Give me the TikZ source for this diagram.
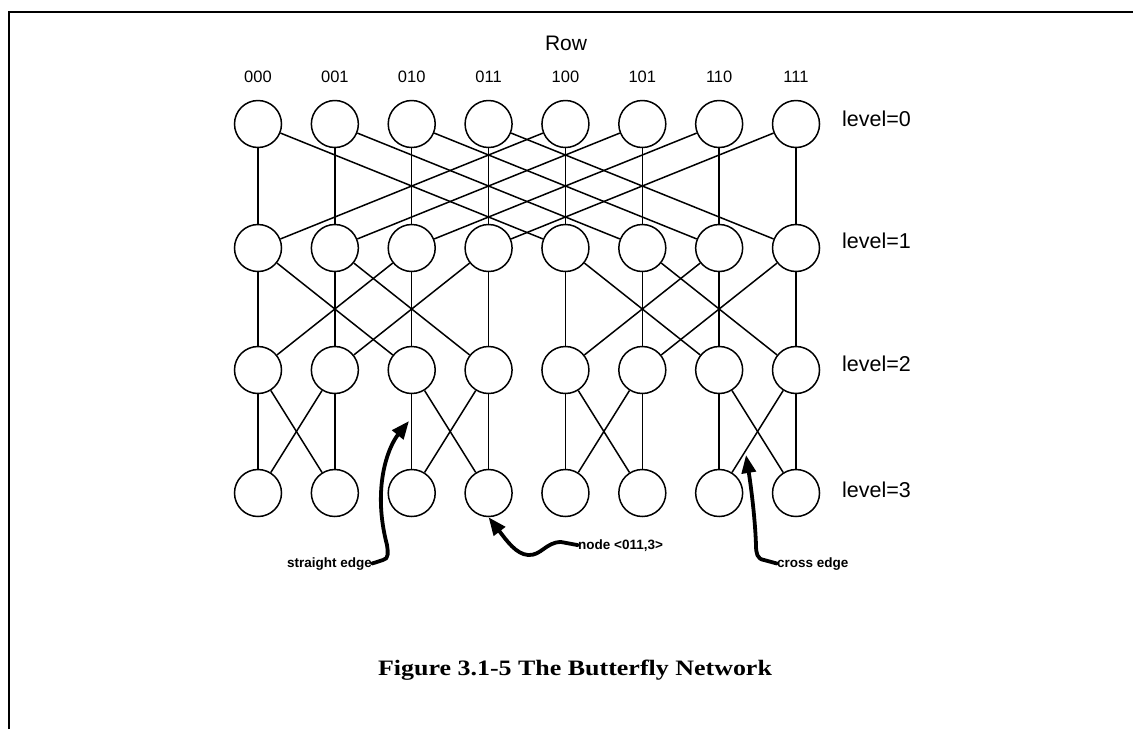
\documentclass[tikz,border=0pt]{standalone}
\usepackage{fontspec}
\setmainfont{Liberation Sans}
\newfontfamily\capfont{Liberation Serif}
\usetikzlibrary{arrows.meta}

\tikzset{
  vtx/.style={circle, draw, line width=1.5pt, minimum size=47pt, inner sep=0pt},
  edge/.style={line width=1.5pt},
  rowlab/.style={anchor=base, inner sep=0pt, font=\fontsize{16.5}{18}\selectfont},
  levlab/.style={anchor=base west, inner sep=0pt, font=\fontsize{21.5}{24}\selectfont},
  notelab/.style={inner sep=0pt, font=\bfseries\fontsize{13.5}{15}\selectfont},
  pointer/.style={line width=3.8pt, line cap=round, line join=round,
                  -{Triangle[length=18pt,width=14pt]}},
  frameline/.style={line width=2pt},
}

\begin{document}
\begin{tikzpicture}[x=1pt, y=-1pt]
\useasboundingbox (0,0) rectangle (1133,729);

% frame
\draw[frameline] (9,729) -- (9,12) -- (1133,12);

% column labels
\node[anchor=base, inner sep=0pt, font=\fontsize{21}{24}\selectfont] (rowtitle) at (566,50) {Row};
\foreach \c/\lab in {0/000,1/001,2/010,3/011,4/100,5/101,6/110,7/111}{
  \node[rowlab] (r\c) at ({258+76.86*\c},82) {\lab};
}

% switches: n<level><column>
\foreach \l/\y in {0/124,1/248,2/370,3/493}{
  \foreach \c in {0,...,7}{
    \node[vtx] (n\l\c) at ({258+76.86*\c},\y) {};
  }
}

% level labels
\node[levlab] (lv0) at (842,126) {level=0};
\node[levlab] (lv1) at (842,248) {level=1};
\node[levlab] (lv2) at (842,371) {level=2};
\node[levlab] (lv3) at (842,497) {level=3};

% straight and cross edges between consecutive levels
\foreach \l/\d in {0/4,1/2,2/1}{
  \pgfmathtruncatemacro\nl{\l+1}
  \foreach \c in {0,...,7}{
    \pgfmathtruncatemacro\p{\c+\d-2*\d*mod(floor(\c/\d),2)}
    \draw[edge] (n\l\c) -- (n\nl\c);
    \draw[edge] (n\l\c) -- (n\nl\p);
  }
}

% annotations
\node[notelab, anchor=base east] (se) at (372,567) {straight edge};
\node[notelab, anchor=base west] (nd) at (578,549) {node <011,3>};
\node[notelab, anchor=base west] (ce) at (777,567) {cross edge};

\coordinate (sttip) at (409,421);
\coordinate (crtip) at (746,455);

\draw[pointer] (se.east) -- (383,560)
  .. controls (389,559) and (388,552) .. (387,545)
  .. controls (372,488) and (388,447) .. (sttip);
\draw[pointer] (nd.west) -- (561,542)
  .. controls (546,542) and (541,556) .. (528,555)
  .. controls (516,554) and (507,541) .. (n33.south);
\draw[pointer] (ce.west) -- (764,560)
  .. controls (757,559) and (756,553) .. (756,545)
  .. controls (755,515) and (750,480) .. (crtip);

% caption
\node[anchor=base, inner sep=0pt, font=\capfont\bfseries\fontsize{22}{25}\selectfont] (caption) at (575,675)
  {\scalebox{1.18}[1]{Figure 3.1-5 The Butterfly Network}};
\end{tikzpicture}
\end{document}
